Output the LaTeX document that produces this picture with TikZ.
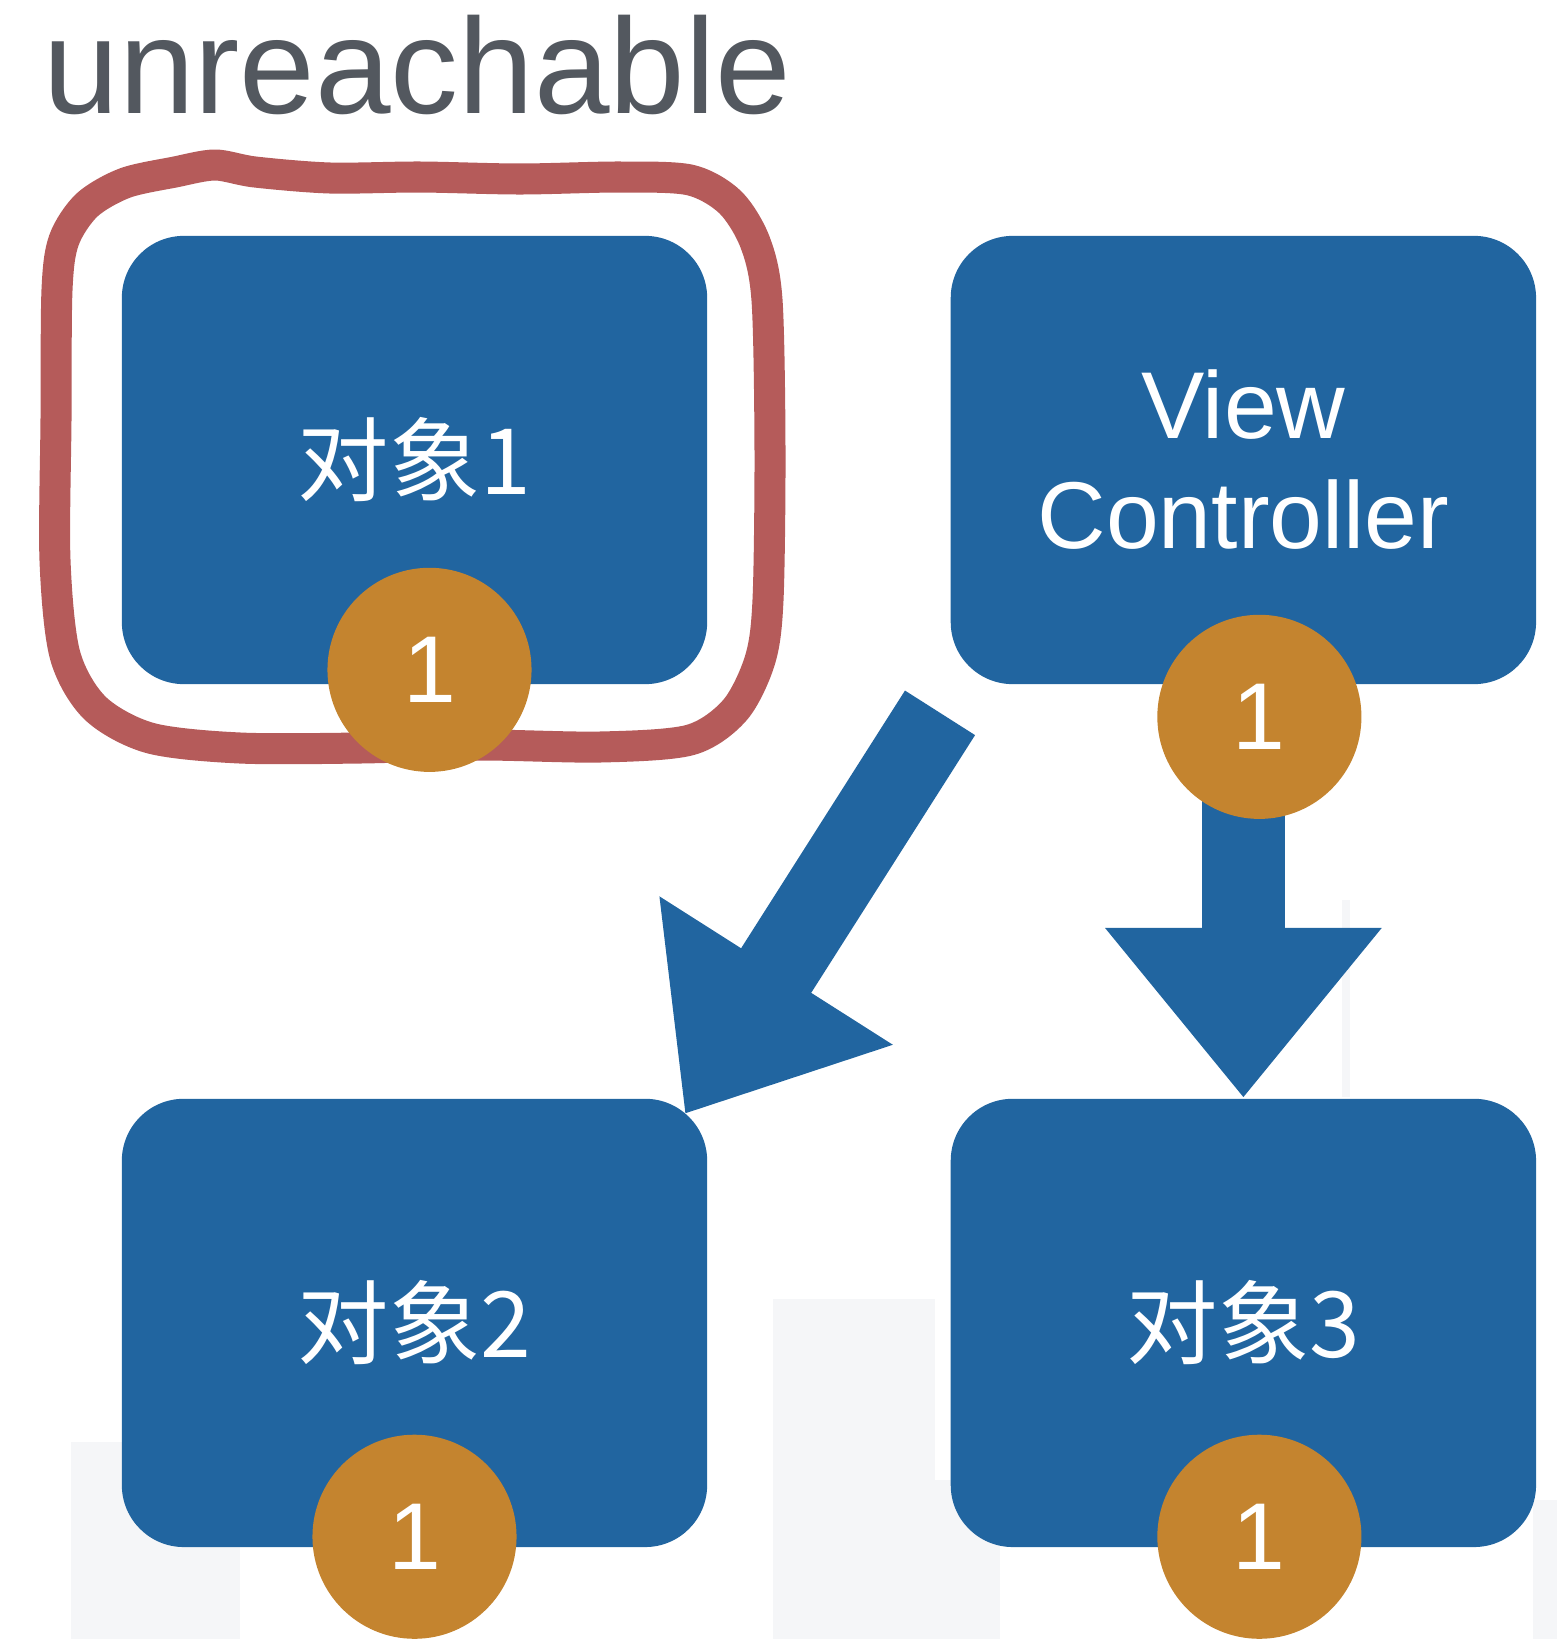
\documentclass[tikz,border=0pt]{standalone}
\usepackage{fontspec}
\setmainfont{Liberation Sans}
\newfontfamily\cjk{Noto Sans CJK SC}
\usetikzlibrary{arrows.meta,positioning}
\usepackage{xcolor}
\definecolor{objblue}{HTML}{2165A0}
\definecolor{badgeorange}{HTML}{C4842F}
\definecolor{markred}{HTML}{B55B5A}
\definecolor{titlegray}{HTML}{53585F}
\definecolor{bgfaint}{HTML}{F5F6F8}

\begin{document}
\begin{tikzpicture}[x=0.01cm,y=-0.01cm,>={Triangle[length=1.7cm,width=2.65cm]},
	obj/.style={rectangle,rounded corners=0.62cm,fill=objblue,text=white,
		minimum width=5.85cm,minimum height=4.48cm,align=center,
		font=\cjk\fontsize{26}{30}\selectfont},
	badge/.style={circle,fill=badgeorange,text=white,minimum size=2.04cm,
		inner sep=0pt,font=\fontsize{27}{30}\selectfont},
	ref/.style={draw=objblue,line width=0.83cm,->}]
	\useasboundingbox (0,0) rectangle (1557,1639);
	\foreach \xa/\ya/\xb/\yb in {
			71/1442/240/1639,
			773/1299/935/1639,
			860/1480/1000/1639,
			1533/1500/1557/1639,
			1342/900/1350/1097
			} {
		\fill[bgfaint] (\xa,\ya) rectangle (\xb,\yb);
	};
	\node[text=titlegray,inner sep=0pt,anchor=base west,
		font=\fontsize{38.6}{40}\selectfont] (title) at (43,113) {unreachable};
	\node[obj] (obj1) at (414.5,460) {对象1};
	\node[obj,right=2.42cm of obj1,font=\fontsize{27}{31.3}\selectfont] (vc) {View\\Controller};
	\node[obj,below=4.13cm of obj1] (obj2) {对象2};
	\node[obj,below=4.13cm of vc] (obj3) {对象3};
	\draw[markred,line width=0.31cm,line join=round] plot[smooth cycle] coordinates {
		(57,290) (64,240) (87,205) (125,183) (175,172) (215,165) (255,172)
		(330,178) (420,177) (520,179) (620,177) (690,180) (730,202) (755,242)
		(767,300) (770,450) (768,600) (760,660) (735,710) (690,740) (600,747)
		(480,745) (360,748) (240,748) (150,738) (95,708) (65,655) (55,560)
		(56,420)};
	\coordinate (vcout) at ([shift={(-10,28)}]vc.south west);
	\draw[ref] (vcout) -- ([shift={(-23,16)}]obj2.north east);
	\draw[ref] (obj3.north |- vc.south) -- (obj3.north);
	\foreach \n/\dx/\dy in {obj1/15/-15, vc/16/32, obj2/0/-11, obj3/16/-11} {
		\node[badge] (\n-badge) at ([shift={(\dx,\dy)}]\n.south) {1};
	};
\end{tikzpicture}
\end{document}
